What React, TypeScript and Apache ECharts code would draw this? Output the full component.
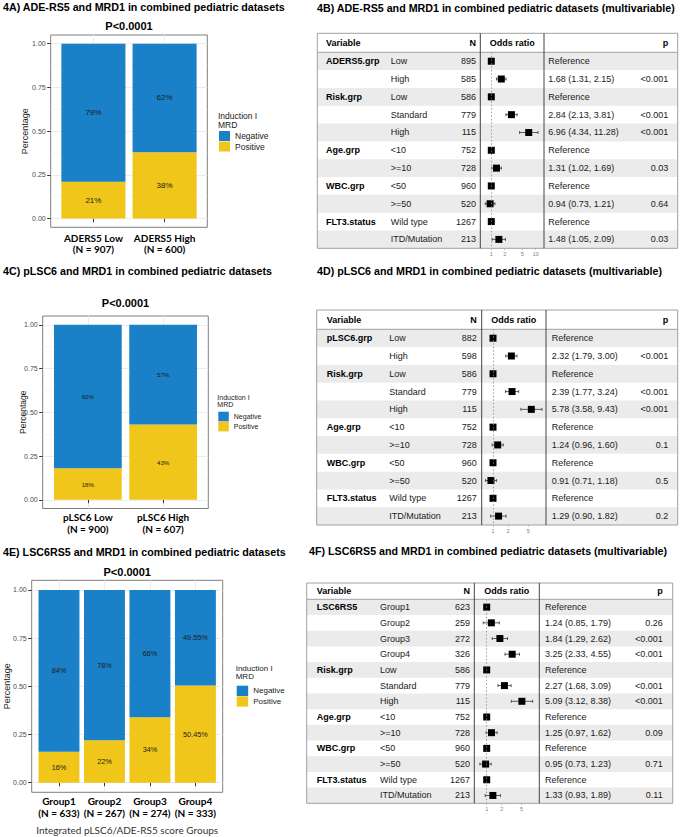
import React, { useEffect, useRef } from "react";
import * as echarts from "echarts";

// ---------------- Data: 4A ----------------
const aCategories = ["ADERS5 Low", "ADERS5 High"];
const aGroupN = [907, 600];
const aNegative = [0.79, 0.62];
const aPositive = [0.21, 0.38];

// ---------------- Data: 4C ----------------
const cCategories = ["pLSC6 Low", "pLSC6 High"];
const cGroupN = [900, 607];
const cNegative = [0.82, 0.57];
const cPositive = [0.18, 0.43];

// ---------------- Data: 4E ----------------
const eCategories = ["Group1", "Group2", "Group3", "Group4"];
const eGroupN = [633, 267, 274, 333];
const eNegative = [0.84, 0.78, 0.66, 0.4955];
const ePositive = [0.16, 0.22, 0.34, 0.5045];

const percentTicks = [0, 0.25, 0.5, 0.75, 1];
const percentMinorTicks = [0.125, 0.375, 0.625, 0.875];
const legendNames = ["Negative", "Positive"];
const pValueText = "P<0.0001";

// ---------------- Data: 4B ----------------
const bVariable = ["ADERS5.grp", "", "Risk.grp", "", "", "Age.grp", "", "WBC.grp", "", "FLT3.status", ""];
const bLevel = ["Low", "High", "Low", "Standard", "High", "<10", ">=10", "<50", ">=50", "Wild type", "ITD/Mutation"];
const bN = [895, 585, 586, 779, 115, 752, 728, 960, 520, 1267, 213];
const bOR = [1, 1.68, 1, 2.84, 6.96, 1, 1.31, 1, 0.94, 1, 1.48];
const bLower = [null, 1.31, null, 2.13, 4.34, null, 1.02, null, 0.73, null, 1.05];
const bUpper = [null, 2.15, null, 3.81, 11.28, null, 1.69, null, 1.21, null, 2.09];
const bP = ["", "<0.001", "", "<0.001", "<0.001", "", "0.03", "", "0.64", "", "0.03"];
const bTicks = [1, 2, 5, 10];

// ---------------- Data: 4D ----------------
const dVariable = ["pLSC6.grp", "", "Risk.grp", "", "", "Age.grp", "", "WBC.grp", "", "FLT3.status", ""];
const dLevel = ["Low", "High", "Low", "Standard", "High", "<10", ">=10", "<50", ">=50", "Wild type", "ITD/Mutation"];
const dN = [882, 598, 586, 779, 115, 752, 728, 960, 520, 1267, 213];
const dOR = [1, 2.32, 1, 2.39, 5.78, 1, 1.24, 1, 0.91, 1, 1.29];
const dLower = [null, 1.79, null, 1.77, 3.58, null, 0.96, null, 0.71, null, 0.9];
const dUpper = [null, 3.0, null, 3.24, 9.43, null, 1.6, null, 1.18, null, 1.82];
const dP = ["", "<0.001", "", "<0.001", "<0.001", "", "0.1", "", "0.5", "", "0.2"];
const dTicks = [1, 2, 5];

// ---------------- Data: 4F ----------------
const fVariable = ["LSC6RS5", "", "", "", "Risk.grp", "", "", "Age.grp", "", "WBC.grp", "", "FLT3.status", ""];
const fLevel = ["Group1", "Group2", "Group3", "Group4", "Low", "Standard", "High", "<10", ">=10", "<50", ">=50", "Wild type", "ITD/Mutation"];
const fN = [623, 259, 272, 326, 586, 779, 115, 752, 728, 960, 520, 1267, 213];
const fOR = [1, 1.24, 1.84, 3.25, 1, 2.27, 5.09, 1, 1.25, 1, 0.95, 1, 1.33];
const fLower = [null, 0.85, 1.29, 2.33, null, 1.68, 3.12, null, 0.97, null, 0.73, null, 0.93];
const fUpper = [null, 1.79, 2.62, 4.55, null, 3.09, 8.38, null, 1.62, null, 1.23, null, 1.89];
const fP = ["", "0.26", "<0.001", "<0.001", "", "<0.001", "<0.001", "", "0.09", "", "0.71", "", "0.11"];
const fTicks = [1, 2, 5];

const titleA = "4A) ADE-RS5 and MRD1 in combined pediatric datasets";
const titleB = "4B) ADE-RS5 and MRD1 in combined pediatric datasets (multivariable)";
const titleC = "4C) pLSC6 and MRD1 in combined pediatric datasets";
const titleD = "4D) pLSC6 and MRD1 in combined pediatric datasets (multivariable)";
const titleE = "4E) LSC6RS5 and MRD1 in combined pediatric datasets";
const titleF = "4F) LSC6RS5 and MRD1 in combined pediatric datasets (multivariable)";
const eAxisName = "Integrated pLSC6/ADE-RS5 score Groups";

// ---------------- Styles / layout ----------------
const FONT = '"Liberation Sans", Arial, Helvetica, sans-serif';
const CAL = 'Lato, "Open Sans", sans-serif';
const BLUE = "#1A81C8";
const YELLOW = "#F1C61A";

function pct(v: number) {
  return `${Math.round(v * 10000) / 100}%`;
}

function txt(x: number, y: number, text: string, o: any = {}) {
  const align = o.align || "left";
  const va = o.va || "middle";
  return {
    type: "text",
    x,
    y,
    rotation: o.rotation || 0,
    z: 100,
    silent: true,
    style: {
      text,
      fill: o.color || "#000",
      fontSize: o.size || 9,
      fontFamily: o.family || FONT,
      fontWeight: o.weight || "normal",
      align,
      verticalAlign: va,
      textAlign: align,
      textVerticalAlign: va,
    },
  };
}

const barLayouts = [
  {
    left: 50.7, top: 35, width: 156.6, height: 192.3,
    tickFont: 7, labelFont: 10, labelLH: 11.3, labelMargin: 4.7, barFont: 8,
    title: titleA, titleY: 7, pY: 26, ylabX: 25, ylabFont: 9,
    legX: 219, legY: 131, legFont: 8.5, swW: 11, swH: 10, swGap: 0.5, legT1: 116, legT2: 124.5,
  },
  {
    left: 42.7, top: 316, width: 165.6, height: 192.5,
    tickFont: 7, labelFont: 10, labelLH: 12, labelMargin: 2.8, barFont: 6.2,
    title: titleC, titleY: 271, pY: 303, ylabX: 23, ylabFont: 8.5,
    legX: 218.3, legY: 411.7, legFont: 7, swW: 10.5, swH: 9.7, swGap: 0.3, legT1: 397, legT2: 404.3,
  },
  {
    left: 31.7, top: 580.3, width: 191, height: 212,
    tickFont: 7, labelFont: 10, labelLH: 12, labelMargin: 2.4, barFont: 7.3,
    title: titleE, titleY: 552, pY: 572.3, ylabX: 7, ylabFont: 9,
    legX: 236.7, legY: 685.7, legFont: 8, swW: 11.5, swH: 10.3, swGap: 0.3, legT1: 668.3, legT2: 676.7,
  },
];

const forestLayouts = [
  { left: 317.3, right: 677.7, top: 33.3, hb: 52.3, bottom: 248.3, v1: 480.3, v2: 544, colVar: 326, colLevel: 390.7, colN: 476, colEst: 548.3, colP: 668.3, one: 491.3, decade: 44.4, sq: 7, title: titleB, titleX: 317, titleY: 8 },
  { left: 316.7, right: 677.7, top: 310, hb: 329.3, bottom: 525, v1: 481.7, v2: 546, colVar: 326.7, colLevel: 389.3, colN: 476.7, colEst: 551.7, colP: 668.3, one: 493, decade: 50.3, sq: 7, title: titleD, titleX: 317, titleY: 271 },
  { left: 306.7, right: 672.7, top: 583, hb: 599.3, bottom: 803.3, v1: 474.3, v2: 539.3, colVar: 316.7, colLevel: 380, colN: 470, colEst: 545, colP: 662.7, one: 486.7, decade: 49.8, sq: 7, title: titleF, titleX: 309, titleY: 551 },
];

function buildOption() {
  const grid: any[] = [];
  const xAxis: any[] = [];
  const yAxis: any[] = [];
  const legend: any[] = [];
  const series: any[] = [];
  const graphics: any[] = [];

  const barData = [
    { cats: aCategories, ns: aGroupN, neg: aNegative, pos: aPositive },
    { cats: cCategories, ns: cGroupN, neg: cNegative, pos: cPositive },
    { cats: eCategories, ns: eGroupN, neg: eNegative, pos: ePositive },
  ];

  barData.forEach((d, i) => {
    const L = barLayouts[i];
    const n = d.cats.length;
    const xt = d.cats.map((_, k) => k + 1);
    const barWidth = (L.width / (n + 0.2)) * 0.9;
    grid.push({
      left: L.left, top: L.top, width: L.width, height: L.height,
      show: true, borderColor: "#7F7F7F", borderWidth: 1, backgroundColor: "#fff",
      containLabel: false, outerBoundsMode: "none",
    });
    xAxis.push({
      type: "value", gridIndex: i, min: 0.4, max: n + 0.6,
      axisLine: { show: false },
      axisTick: { show: true, customValues: xt, length: 3.5, lineStyle: { color: "#333", width: 1 } },
      axisLabel: {
        customValues: xt,
        formatter: (v: number) => {
          const k = Math.round(v) - 1;
          return `${d.cats[k]}\n(N = ${d.ns[k]})`;
        },
        margin: L.labelMargin, fontFamily: CAL, fontWeight: "bold", fontSize: L.labelFont,
        lineHeight: L.labelLH, color: "#000",
      },
      splitLine: { show: true, lineStyle: { color: "#EBEBEB", width: 1 } },
    });
    yAxis.push({
      type: "value", gridIndex: i, min: -0.05, max: 1.05, position: "left",
      axisLine: { show: false },
      axisTick: { show: true, customValues: percentTicks, length: 3.5, lineStyle: { color: "#333", width: 1 } },
      axisLabel: {
        customValues: percentTicks, formatter: (v: number) => v.toFixed(2),
        fontSize: L.tickFont, color: "#4D4D4D", margin: 5, fontFamily: FONT,
      },
      splitLine: { show: true, lineStyle: { color: "#EBEBEB", width: 1 } },
    });
    yAxis.push({
      type: "value", gridIndex: i, min: -0.05, max: 1.05, position: "left",
      axisLine: { show: false },
      axisTick: { show: false, customValues: percentMinorTicks },
      axisLabel: { show: false, customValues: percentMinorTicks },
      splitLine: { show: true, lineStyle: { color: "#F1F1F1", width: 0.6 } },
    });
    const lbl = {
      show: true, position: "inside", formatter: (p: any) => pct(p.value[0]),
      fontSize: L.barFont, color: "#1a1a1a", fontFamily: FONT, textBorderWidth: 0,
    };
    // value first, position second: the value dimension is the stacked one
    series.push({
      type: "bar", name: "Positive", xAxisIndex: i, yAxisIndex: 2 * i, stack: "s" + i, barWidth,
      encode: { x: 1, y: 0 },
      data: d.pos.map((v, k) => [v, k + 1]), itemStyle: { color: YELLOW }, label: lbl, silent: true,
    });
    series.push({
      type: "bar", name: "Negative", xAxisIndex: i, yAxisIndex: 2 * i, stack: "s" + i, barWidth,
      encode: { x: 1, y: 0 },
      data: d.neg.map((v, k) => [v, k + 1]), itemStyle: { color: BLUE }, label: lbl, silent: true,
    });
    legend.push({
      show: true, left: L.legX, top: L.legY, orient: "vertical", padding: 0,
      itemGap: L.swGap, itemWidth: L.swW, itemHeight: L.swH, icon: "rect", selectedMode: false,
      data: legendNames,
      textStyle: { fontSize: L.legFont, color: "#1a1a1a", fontFamily: FONT, lineHeight: L.swH },
    });
    const cx = L.left + L.width / 2;
    graphics.push(txt(3, L.titleY, L.title, { size: 10.7, weight: "bold" }));
    graphics.push(txt(cx, L.pY, pValueText, { size: 11, weight: "bold", align: "center" }));
    graphics.push(txt(L.ylabX, L.top + L.height / 2, "Percentage", { size: L.ylabFont, align: "center", rotation: Math.PI / 2, color: "#1a1a1a" }));
    graphics.push(txt(L.legX - 1, L.legT1, "Induction I", { size: L.legFont, color: "#1a1a1a" }));
    graphics.push(txt(L.legX - 1, L.legT2, "MRD", { size: L.legFont, color: "#1a1a1a" }));
    if (i === 2) {
      graphics.push(txt(cx, 830, eAxisName, { size: 10, family: CAL, align: "center", color: "#333" }));
    }
  });

  const forestData = [
    { variable: bVariable, level: bLevel, n: bN, or: bOR, lo: bLower, hi: bUpper, p: bP, ticks: bTicks },
    { variable: dVariable, level: dLevel, n: dN, or: dOR, lo: dLower, hi: dUpper, p: dP, ticks: dTicks },
    { variable: fVariable, level: fLevel, n: fN, or: fOR, lo: fLower, hi: fUpper, p: fP, ticks: fTicks },
  ];

  forestData.forEach((d, j) => {
    const L = forestLayouts[j];
    const gi = 3 + j;
    const xi = 3 + j;
    const yi = 6 + j;
    const logTicks = d.ticks.map((t) => Math.log10(t));
    grid.push({
      left: L.v1, top: L.hb, width: L.v2 - L.v1, height: L.bottom - L.hb,
      show: false, containLabel: false, outerBoundsMode: "none",
    });
    xAxis.push({
      type: "value", gridIndex: gi,
      min: (L.v1 - L.one) / L.decade, max: (L.v2 - L.one) / L.decade,
      axisLine: { show: false }, splitLine: { show: false },
      axisTick: { show: true, customValues: logTicks, length: 2, lineStyle: { color: "#aaa", width: 0.6 } },
      axisLabel: {
        customValues: logTicks,
        formatter: (v: number) => String(Math.round(Math.pow(10, v))),
        fontSize: 5.5, color: "#808080", margin: 3, fontFamily: FONT,
      },
    });
    yAxis.push({
      type: "category", gridIndex: gi, inverse: true, show: false,
      data: d.level.map((_, k) => String(k)),
    });
    const est = d.or.map((v, k) =>
      d.lo[k] == null ? "Reference" : `${v.toFixed(2)} (${(d.lo[k] as number).toFixed(2)}, ${(d.hi[k] as number).toFixed(2)})`
    );
    const tstyle = (text: string, x: number, y: number, align: string, bold: boolean) => ({
      type: "text", x, y,
      style: {
        text, fill: bold ? "#000" : "#1a1a1a", fontSize: 9, fontFamily: FONT,
        fontWeight: bold ? "bold" : "normal", align, verticalAlign: "middle",
        textAlign: align, textVerticalAlign: "middle",
      },
    });
    series.push({
      type: "custom", xAxisIndex: xi, yAxisIndex: yi, z: 1, silent: true, clip: false,
      data: d.level.map((_, k) => [0, k]),
      renderItem: (params: any, api: any) => {
        const k = api.value(1);
        const cy = api.coord([0, k])[1];
        const h = api.size([0, 1])[1];
        const children: any[] = [];
        if (k % 2 === 0) {
          children.push({ type: "rect", shape: { x: L.left, y: cy - h / 2, width: L.right - L.left, height: h }, style: { fill: "#EBEBEB" } });
        }
        if (d.variable[k]) children.push(tstyle(d.variable[k], L.colVar, cy, "left", true));
        children.push(tstyle(d.level[k], L.colLevel, cy, "left", false));
        children.push(tstyle(String(d.n[k]), L.colN, cy, "right", false));
        children.push(tstyle(est[k], L.colEst, cy, "left", false));
        if (d.p[k]) children.push(tstyle(d.p[k], L.colP, cy, "right", false));
        return { type: "group", children };
      },
    });
    const ciData: number[][] = [];
    d.lo.forEach((lo, k) => {
      if (lo != null) ciData.push([Math.log10(lo), Math.log10(d.hi[k] as number), k]);
    });
    series.push({
      type: "custom", xAxisIndex: xi, yAxisIndex: yi, z: 3, silent: true, clip: false,
      encode: { x: [0, 1], y: 2 },
      data: ciData,
      renderItem: (params: any, api: any) => {
        const k = api.value(2);
        const a = api.coord([api.value(0), k]);
        const b = api.coord([api.value(1), k]);
        const cap = 1.5;
        const st = { stroke: "#333", lineWidth: 0.8 };
        return {
          type: "group",
          children: [
            { type: "line", shape: { x1: a[0], y1: a[1], x2: b[0], y2: b[1] }, style: st },
            { type: "line", shape: { x1: a[0], y1: a[1] - cap, x2: a[0], y2: a[1] + cap }, style: st },
            { type: "line", shape: { x1: b[0], y1: b[1] - cap, x2: b[0], y2: b[1] + cap }, style: st },
          ],
        };
      },
    });
    series.push({
      type: "scatter", xAxisIndex: xi, yAxisIndex: yi, z: 4, silent: true,
      symbol: "rect", symbolSize: L.sq, itemStyle: { color: "#000", opacity: 1 },
      data: d.or.map((v, k) => [Math.log10(v), k]),
      markLine: {
        silent: true, symbol: ["none", "none"], label: { show: false },
        lineStyle: { type: [1.5, 2], color: "#888", width: 0.8 },
        data: [{ xAxis: 0 }],
      },
    });
    graphics.push(txt(L.titleX, L.titleY, L.title, { size: 10.7, weight: "bold" }));
    graphics.push({
      type: "rect", z: 100, silent: true,
      shape: { x: L.left, y: L.top, width: L.right - L.left, height: L.bottom - L.top },
      style: { fill: "none", stroke: "#A0A0A0", lineWidth: 1 },
    });
    graphics.push({
      type: "line", z: 100, silent: true,
      shape: { x1: L.left, y1: L.hb, x2: L.right, y2: L.hb },
      style: { stroke: "#A0A0A0", lineWidth: 1 },
    });
    [L.v1, L.v2].forEach((vx) =>
      graphics.push({
        type: "line", z: 100, silent: true,
        shape: { x1: vx, y1: L.top, x2: vx, y2: L.bottom },
        style: { stroke: "#444", lineWidth: 1 },
      })
    );
    const hy = (L.top + L.hb) / 2;
    graphics.push(txt(L.colVar, hy, "Variable", { weight: "bold" }));
    graphics.push(txt(L.colN, hy, "N", { weight: "bold", align: "right" }));
    graphics.push(txt((L.v1 + L.v2) / 2, hy, "Odds ratio", { weight: "bold", align: "center" }));
    graphics.push(txt(L.colP, hy, "p", { weight: "bold", align: "right" }));
  });

  return {
    animation: false,
    backgroundColor: "#fff",
    textStyle: { fontFamily: FONT },
    grid,
    xAxis,
    yAxis,
    legend,
    series,
    graphic: { elements: graphics },
  };
}

export default function App() {
  const ref = useRef<HTMLDivElement>(null);
  useEffect(() => {
    if (!ref.current) return;
    const chart = echarts.init(ref.current, undefined, { renderer: "svg" });
    chart.setOption(buildOption() as any);
    return () => chart.dispose();
  }, []);
  return (
    <div
      ref={ref}
      style={{ position: "absolute", left: 0, top: 0, width: 685, height: 837, background: "#fff" }}
    />
  );
}
